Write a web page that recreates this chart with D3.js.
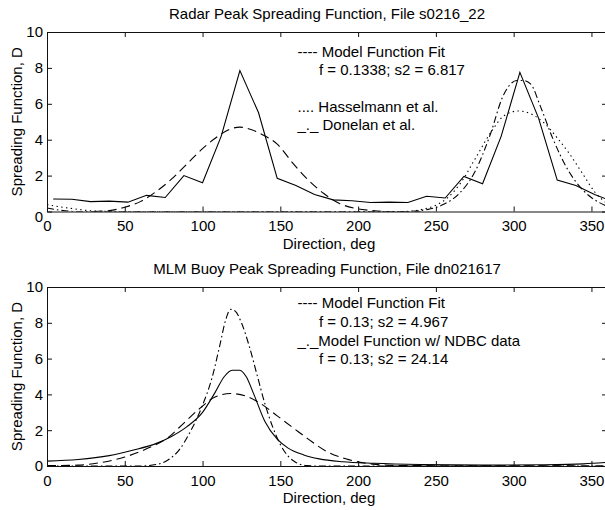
<!DOCTYPE html>
<html>
<head>
<meta charset="utf-8">
<script src="https://cdn.jsdelivr.net/npm/d3@7"></script>
<style>
  body { margin: 0; background: #fff; }
  svg { display: block; font-family: "Liberation Sans", Arial, sans-serif; }
  .axis path, .axis line { stroke: #111; stroke-width: 1; }
  .axis text { font-size: 15px; fill: #000; font-family: "Liberation Sans", Arial, sans-serif; }
  .label, .title, .legend { font-size: 15px; fill: #000; }
  .curve { fill: none; stroke: #000; stroke-width: 1.1; }
</style>
</head>
<body>
<script>
// tick values
const degTicks = [0, 50, 100, 150, 200, 250, 300, 350];
const dTicks = [0, 2, 4, 6, 8, 10];

const titles = [
  "Radar Peak Spreading Function, File s0216_22",
  "MLM Buoy Peak Spreading Function, File dn021617"
];

// top panel: radar data (solid)
const radarDeg = [4, 16, 28, 40, 52, 64, 76, 88, 100, 112, 124, 136, 148, 160, 172, 184, 196, 208, 220, 232, 244, 256, 268, 280, 292, 304, 316, 328, 340, 352, 364];
const radarD = [0.7, 0.68, 0.55, 0.58, 0.52, 0.9, 0.78, 2.0, 1.6, 4.2, 7.85, 5.5, 1.85, 1.45, 0.95, 0.65, 0.6, 0.5, 0.52, 0.5, 0.85, 0.75, 1.95, 1.55, 4.2, 7.75, 5.2, 1.75, 1.45, 0.95, 0.55];

// top panel: model function fit (dashed)
const fitTopDeg = [30, 40, 50, 60, 70, 80, 90, 100, 110, 118, 124, 130, 138, 148, 158, 168, 178, 188, 198, 208, 218, 240];
const fitTopD = [0, 0.05, 0.24, 0.55, 1.1, 1.8, 2.65, 3.5, 4.2, 4.6, 4.7, 4.6, 4.3, 3.75, 2.7, 1.75, 1.0, 0.45, 0.18, 0.06, 0, 0];

// top panel: Hasselmann et al. (dotted)
const hassDeg = [0, 10, 20, 30, 45, 230, 240, 250, 258, 266, 276, 286, 294, 303, 312, 320, 328, 336, 344, 352, 360];
const hassD = [0.38, 0.24, 0.12, 0.03, 0, 0, 0.1, 0.35, 0.8, 1.6, 3.05, 4.5, 5.35, 5.6, 5.4, 4.9, 4.1, 3.2, 2.15, 1.1, 0.45];

// top panel: Donelan et al. (dash-dot)
const donDeg = [0, 8, 18, 230, 245, 255, 265, 275, 285, 293, 297, 302, 306, 311, 317, 325, 335, 345, 355, 360];
const donD = [0.2, 0.08, 0, 0, 0.12, 0.4, 1.0, 2.2, 4.3, 6.4, 7.0, 7.3, 7.3, 7.1, 5.9, 4.1, 2.3, 1.15, 0.5, 0.3];

// bottom panel: MLM buoy (solid)
const buoyDeg = [0, 20, 40, 55, 70, 80, 90, 100, 108, 114, 119, 124, 128, 133, 140, 148, 155, 165, 175, 190, 210, 240, 280, 320, 345, 360];
const buoyD = [0.27, 0.36, 0.58, 0.88, 1.25, 1.65, 2.2, 3.0, 4.1, 5.0, 5.35, 5.35, 5.0, 4.0, 2.5, 1.5, 1.0, 0.62, 0.4, 0.24, 0.15, 0.08, 0.05, 0.07, 0.12, 0.2];

// bottom panel: model function fit (dashed)
const fitBotDeg = [0, 20, 35, 50, 65, 78, 88, 98, 108, 118, 128, 138, 148, 158, 168, 180, 192, 204, 217, 240, 300, 360];
const fitBotD = [0.02, 0.05, 0.2, 0.5, 1.0, 1.6, 2.4, 3.2, 3.85, 4.05, 3.9, 3.45, 2.8, 2.15, 1.5, 0.8, 0.4, 0.17, 0.05, 0.02, 0.01, 0];

// bottom panel: model function w/ NDBC data (dash-dot)
const ndbcDeg = [0, 60, 70, 78, 85, 92, 100, 106, 111, 115, 118, 121, 125, 130, 135, 140, 145, 150, 155, 160, 167, 175, 360];
const ndbcD = [0, 0, 0.08, 0.35, 0.9, 1.9, 3.4, 4.9, 6.7, 8.2, 8.75, 8.65, 8.0, 6.7, 5.1, 3.5, 2.2, 1.2, 0.55, 0.2, 0.02, 0, 0];

const legendTop = ["---- Model Function Fit", "f = 0.1338; s2 = 6.817", "", ".... Hasselmann et al.", "_._ Donelan et al."];
const legendBot = ["---- Model Function Fit", "f = 0.13; s2 = 4.967", "_._Model Function w/ NDBC data", "f = 0.13; s2 = 24.14"];

const zip = (a, b) => a.map((d, i) => [d, b[i]]);

const dash = { solid: null, dashed: "9,5", dotted: "1.4,3.4", dashdot: "7,3,1.6,3" };

const panels = [
  {
    title: titles[0], top: 32, bottom: 211.5, legend: legendTop, legendY: 51.7, legendStep: 18.3,
    series: [
      { pts: zip(radarDeg, radarD), style: "solid", curve: d3.curveLinear },
      { pts: zip(fitTopDeg, fitTopD), style: "dashed", curve: d3.curveMonotoneX },
      { pts: zip(hassDeg, hassD), style: "dotted", curve: d3.curveMonotoneX },
      { pts: zip(donDeg, donD), style: "dashdot", curve: d3.curveMonotoneX }
    ],
    zeroShift: 5
  },
  {
    title: titles[1], top: 287, bottom: 466, legend: legendBot, legendY: 303.3, legendStep: 18.6,
    series: [
      { pts: zip(buoyDeg, buoyD), style: "solid", curve: d3.curveMonotoneX },
      { pts: zip(fitBotDeg, fitBotD), style: "dashed", curve: d3.curveMonotoneX },
      { pts: zip(ndbcDeg, ndbcD), style: "dashdot", curve: d3.curveMonotoneX }
    ],
    zeroShift: 0
  }
];

const left = 47, right = 607;

const svg = d3.select("body")
  .append("svg")
  .attr("width", 605)
  .attr("height", 510);

svg.append("rect").attr("width", 605).attr("height", 510).attr("fill", "#fff");

const x = d3.scaleLinear().domain([0, 360]).range([left, right]);

panels.forEach((p, pi) => {
  const y = d3.scaleLinear().domain([0, 10]).range([p.bottom, p.top]);
  const g = svg.append("g");

  const clipId = "clip" + pi;
  svg.append("clipPath").attr("id", clipId)
    .append("rect")
    .attr("x", left).attr("y", p.top)
    .attr("width", right - left).attr("height", p.bottom - p.top);

  // curves
  const line = d3.line()
    .x(d => x(d[0]))
    .y(d => y(d[1]));

  p.series.forEach(s => {
    g.append("path")
      .datum(s.pts)
      .attr("class", "curve")
      .attr("clip-path", `url(#${clipId})`)
      .attr("stroke-dasharray", dash[s.style])
      .attr("d", line.curve(s.curve));
  });

  // axes with inward ticks, box all round
  g.append("g")
    .attr("class", "axis")
    .attr("transform", `translate(0,${p.bottom})`)
    .call(d3.axisBottom(x).tickValues(degTicks).tickSizeInner(-5).tickSizeOuter(0).tickPadding(9));

  g.append("g")
    .attr("class", "axis")
    .attr("transform", `translate(0,${p.top})`)
    .call(d3.axisTop(x).tickValues(degTicks).tickSizeInner(-5).tickSizeOuter(0).tickFormat(""));

  const yAx = g.append("g")
    .attr("class", "axis")
    .attr("transform", `translate(${left},0)`)
    .call(d3.axisLeft(y).tickValues(dTicks).tickSizeInner(-5).tickSizeOuter(0).tickPadding(4));
  yAx.selectAll(".tick text").filter(d => d === 0).attr("dy", (0.32 + p.zeroShift / 15) + "em");

  g.append("g")
    .attr("class", "axis")
    .attr("transform", `translate(${right},0)`)
    .call(d3.axisRight(y).tickValues(dTicks).tickSizeInner(-5).tickSizeOuter(0).tickFormat(""));

  // title and labels
  g.append("text")
    .attr("class", "title")
    .attr("x", 327)
    .attr("y", p.top - 13)
    .attr("text-anchor", "middle")
    .text(p.title);

  g.append("text")
    .attr("class", "label")
    .attr("x", 329)
    .attr("y", p.bottom + 37)
    .attr("text-anchor", "middle")
    .text("Direction, deg");

  g.append("text")
    .attr("class", "label")
    .attr("transform", `translate(22,${(p.top + p.bottom) / 2}) rotate(-90)`)
    .attr("text-anchor", "middle")
    .text("Spreading Function, D");

  // legend (typed line symbols, as in the original)
  p.legend.forEach((t, i) => {
    if (!t) return;
    const isParam = t.startsWith("f =");
    g.append("text")
      .attr("class", "legend")
      .attr("x", isParam ? 319 : 297.5)
      .attr("y", p.legendY + i * p.legendStep + 5)
      .attr("xml:space", "preserve")
      .text(t);
  });
});
</script>
</body>
</html>
